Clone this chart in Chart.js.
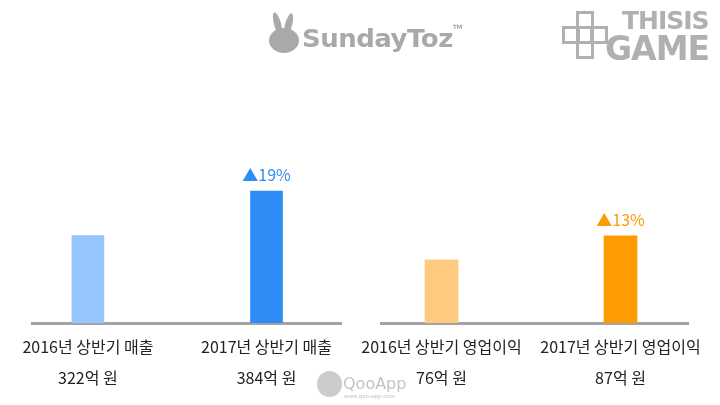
<!DOCTYPE html>
<html>
<head>
<meta charset="utf-8">
<script src="https://cdn.jsdelivr.net/npm/chart.js@4.4.0/dist/chart.umd.min.js"></script>
<style>
    html, body { margin: 0; padding: 0; background: #fff; }
    #wrap { position: relative; width: 720px; height: 405px; overflow: hidden; font-family: "Noto Sans CJK KR", sans-serif; }
    .chart-box { position: absolute; top: 0; width: 360px; height: 405px; }
    .logo { position: absolute; color: #a9a9a9; font-family: "DejaVu Sans", sans-serif; font-weight: bold; }
    .sq { position: absolute; border: 3px solid #b0b0b0; width: 12px; height: 12px; }
</style>
</head>
<body>
<div id="wrap">
    <div class="chart-box" style="left:0"><canvas id="revenueChart"></canvas></div>
    <div class="chart-box" style="left:360px"><canvas id="profitChart"></canvas></div>

    <!-- logos / watermark -->
    <div class="logo" style="left:274px;top:12px;width:7px;height:24px;border-radius:50%;background:#a9a9a9;transform:rotate(-15deg);"></div>
    <div class="logo" style="left:285px;top:13px;width:7px;height:24px;border-radius:50%;background:#a9a9a9;transform:rotate(15deg);"></div>
    <div class="logo" style="left:269px;top:28px;width:30px;height:25px;border-radius:50%;background:#a9a9a9;"></div>
    <div class="logo" style="left:302px;top:23px;font-size:26px;letter-spacing:-0.5px;transform:scaleY(0.95);">SundayToz<span style="font-size:6px;vertical-align:top">TM</span></div>
    <div class="sq" style="left:576px;top:11px"></div>
    <div class="sq" style="left:562px;top:26px"></div>
    <div class="sq" style="left:576px;top:26px"></div>
    <div class="sq" style="left:590px;top:26px"></div>
    <div class="sq" style="left:576px;top:41px"></div>
    <div class="logo" style="left:622px;top:6px;font-size:25px;letter-spacing:-1px;color:#b0b0b0;">THISIS</div>
    <div class="logo" style="left:605px;top:29px;font-size:33px;letter-spacing:-1px;color:#b0b0b0;">GAME</div>
    <div class="logo" style="left:317px;top:371px;width:25px;height:26px;border-radius:50% 50% 50% 50%;background:#cccccc;"></div>
    <div class="logo" style="left:343px;top:374px;font-size:16px;font-weight:normal;color:#c4c4c4;">QooApp</div>
    <div class="logo" style="left:344px;top:393px;font-size:5.5px;font-weight:normal;color:#c4c4c4;">www.qoo-app.com</div>
</div>

<script>
// Data
const periods = ["2016년 상반기", "2017년 상반기"];
const revenueValues = [322, 384];      // 억 원
const profitValues = [76, 87];         // 억 원
const revenueChange = ["", "▲19%"];
const profitChange = ["", "▲13%"];

const FONT = "'Noto Sans CJK KR', 'Noto Sans', sans-serif";

// draws the change label above each bar
const changeLabelPlugin = {
    id: "changeLabel",
    afterDatasetsDraw(chart, args, opts) {
        const ctx = chart.ctx;
        const meta = chart.getDatasetMeta(0);
        ctx.save();
        ctx.font = "16px " + FONT;
        ctx.fillStyle = opts.color;
        ctx.textAlign = "center";
        ctx.textBaseline = "middle";
        meta.data.forEach((bar, i) => {
            const txt = opts.labels[i];
            if (txt) ctx.fillText(txt, bar.x, bar.y - 16);
        });
        ctx.restore();
    }
};

function buildChart(canvasId, metric, values, colors, changeLabels, changeColor, xRange, yRange, pad, barWidth) {
    const ctx = document.getElementById(canvasId).getContext("2d");
    return new Chart(ctx, {
        type: "bar",
        data: {
            datasets: [{
                data: values.map((v, i) => ({ x: i, y: v })),
                backgroundColor: colors,
                barThickness: barWidth
            }]
        },
        plugins: [changeLabelPlugin],
        options: {
            responsive: false,
            animation: false,
            layout: { padding: { left: pad.left, right: pad.right, top: pad.top, bottom: 0 } },
            plugins: {
                legend: { display: false },
                tooltip: { enabled: false },
                changeLabel: { labels: changeLabels, color: changeColor }
            },
            scales: {
                x: {
                    type: "linear",
                    offset: false,
                    min: xRange[0],
                    max: xRange[1],
                    grid: { display: false, drawTicks: false },
                    border: { display: true, color: "#a3a3a3", width: 3 },
                    afterBuildTicks: axis => { axis.ticks = values.map((v, i) => ({ value: i })); },
                    afterFit: axis => {
                        axis.height = 82;
                        axis.paddingLeft = 0;
                        axis.paddingRight = 0;
                    },
                    ticks: {
                        padding: 9,
                        color: "#222",
                        autoSkip: false,
                        maxRotation: 0,
                        minRotation: 0,
                        font: { family: FONT, size: 16, lineHeight: 1.9 },
                        callback: value => [periods[value] + " " + metric, values[value] + "억 원"]
                    }
                },
                y: {
                    display: false,
                    min: yRange[0],
                    max: yRange[1]
                }
            }
        }
    });
}

const revenueCanvas = document.getElementById("revenueChart");
const profitCanvas = document.getElementById("profitChart");
[revenueCanvas, profitCanvas].forEach(c => { c.width = 360; c.height = 405; });

buildChart("revenueChart", "매출", revenueValues,
    ["#97c5fd", "#2e8cf6"], revenueChange, "#2e8cf6",
    [-0.313, 1.417], [200, 440], { left: 32, right: 19, top: 151 }, 32);

buildChart("profitChart", "영업이익", profitValues,
    ["#fdca80", "#fd9b02"], profitChange, "#fd9b02",
    [-0.338, 1.377], [47, 126], { left: 21, right: 32, top: 151 }, 33);
</script>
</body>
</html>
